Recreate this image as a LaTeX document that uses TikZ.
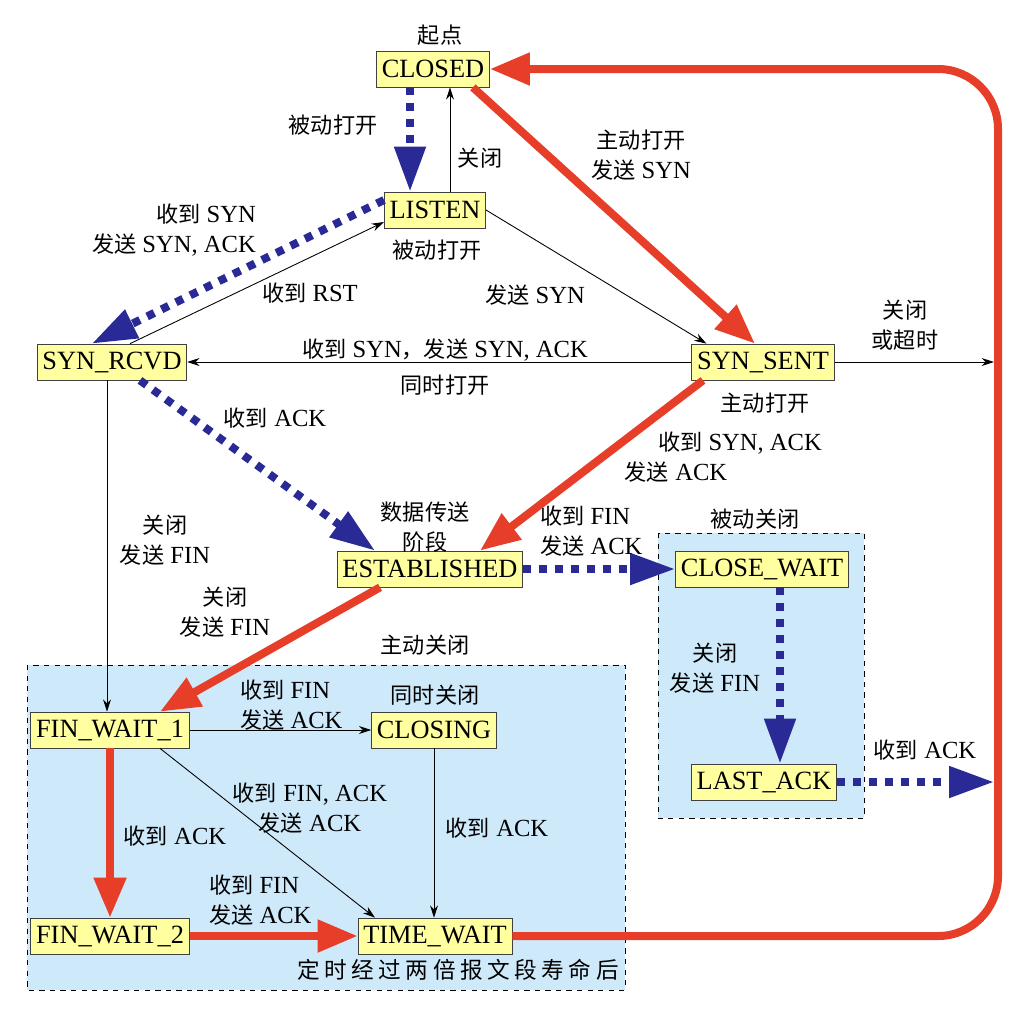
\documentclass[tikz,border=0pt]{standalone}
\usepackage{fontspec}
\setmainfont{Liberation Serif}
\newfontfamily\cjk[Scale=0.9]{Noto Sans CJK SC}
\newfontfamily\cjkwide[Scale=0.92,LetterSpace=20]{Noto Sans CJK SC}
\newcommand{\zh}[1]{{\cjk #1}}
\usetikzlibrary{arrows.meta}

\definecolor{tcpred}{RGB}{230,62,40}
\definecolor{tcpblue}{RGB}{42,42,150}
\definecolor{boxfill}{RGB}{255,255,160}
\definecolor{areafill}{RGB}{206,233,250}

\tikzset{
  state/.style={draw=black!75, fill=boxfill, minimum height=0.72cm, inner xsep=3pt,
    font=\fontsize{15}{17}\selectfont},
  lbl/.style={font=\fontsize{14}{17}\selectfont, inner sep=1pt},
  plainedge/.style={draw, line width=0.5pt, -{Stealth[length=7pt,width=4.5pt]}},
  rededge/.style={draw=tcpred, line width=0.16cm, -{Triangle[length=0.8cm,width=0.62cm]}},
  blueedge/.style={draw=tcpblue, line width=0.16cm, dash pattern=on 0.16cm off 0.16cm,
    -{Triangle[length=0.9cm,width=0.6cm]}},
  area/.style={draw, dashed, fill=areafill, line width=0.5pt}
}

\begin{document}
\begin{tikzpicture}[x=0.02cm, y=-0.02cm]
    \useasboundingbox (0,0) rectangle (1024,1012);

    % Closing areas
    \draw[area] (27,665) rectangle (625,990);
    \draw[area] (658,533) rectangle (864,818);

    % States
    \node[state] (closed) at (433,69) {CLOSED};
    \node[state] (listen) at (435,210) {LISTEN};
    \node[state] (synrcvd) at (112,362) {SYN\_RCVD};
    \node[state] (synsent) at (763,362) {SYN\_SENT};
    \node[state] (estab) at (430,569) {ESTABLISHED};
    \node[state] (closewait) at (762,569) {CLOSE\_WAIT};
    \node[state] (lastack) at (764,782) {LAST\_ACK};
    \node[state] (finwait1) at (110,730) {FIN\_WAIT\_1};
    \node[state] (closing) at (434,730) {CLOSING};
    \node[state] (finwait2) at (110,936) {FIN\_WAIT\_2};
    \node[state] (timewait) at (435,936) {TIME\_WAIT};

    % Points on the return line
    \coordinate (rline1) at (994,362);
    \coordinate (rline2) at (994,782);
    \coordinate (rtop) at (998,69);

    % Opening
    \draw[blueedge] ([xshift=-0.46cm]closed.south) -- ([xshift=-0.46cm]closed.south |- listen.north);
    \draw[plainedge] ([xshift=0.3cm]listen.north) -- ([xshift=0.3cm]listen.north |- closed.south);
    \draw[rededge] ([xshift=-0.34cm]closed.south east) -- ([xshift=-0.16cm]synsent.north);
    \draw[blueedge] ([yshift=0.2cm]listen.west) -- ([xshift=1.1cm]synrcvd.north west);
    \draw[plainedge] ([xshift=0.36cm]synrcvd.north) -- ([yshift=-0.24cm]listen.west);
    \draw[plainedge] (listen.east) -- ([xshift=0.3cm]synsent.north west);
    \draw[plainedge] (synsent.west) -- (synrcvd.east);
    \draw[plainedge] (synsent.east) -- (rline1);
    \draw[blueedge] ([xshift=0.56cm]synrcvd.south) -- ([xshift=-1.1cm]estab.north);
    \draw[rededge] ([xshift=-1.2cm]synsent.south) -- ([xshift=1.0cm]estab.north);

    % Closing
    \draw[plainedge] ([xshift=-0.1cm]synrcvd.south) -- ([xshift=-0.1cm]synrcvd.south |- finwait1.north);
    \draw[rededge] ([xshift=-1.0cm]estab.south) -- ([xshift=1.0cm]finwait1.north);
    \draw[blueedge] (estab.east) -- (closewait.west);
    \draw[blueedge] ([xshift=0.36cm]closewait.south) -- ([xshift=0.36cm]closewait.south |- lastack.north);
    \draw[blueedge] (lastack.east) -- (rline2);
    \draw[plainedge] (finwait1.east) -- (closing.west);
    \draw[plainedge] ([xshift=1.0cm]finwait1.south) -- ([xshift=-1.2cm]timewait.north);
    \draw[plainedge] (closing.south) -- (closing.south |- timewait.north);
    \draw[rededge] (finwait1.south) -- (finwait2.north);
    \draw[rededge] (finwait2.east) -- (timewait.west);
    \draw[rededge, rounded corners=1.2cm] (timewait.east) -| (rtop) -- (closed.east);

    % Labels
    \node[lbl] (startlbl) at (440,35) {\zh{起点}};
    \node[lbl] (passopen) at (333,125) {\zh{被动打开}};
    \node[lbl] (closelbl) at (480,158) {\zh{关闭}};
    \node[lbl, align=center] (actopen) at (641,155) {\zh{主动打开}\\\zh{发送} SYN};
    \node[lbl, align=right, anchor=east] (rcvsyn) at (258,230) {\zh{收到} SYN\\\zh{发送} SYN, ACK};
    \node[lbl] (listenlbl) at (437,250) {\zh{被动打开}};
    \node[lbl] (rcvrst) at (310,293) {\zh{收到} RST};
    \node[lbl] (sendsyn) at (535,295) {\zh{发送} SYN};
    \node[lbl] (simsyn) at (445,350) {\zh{收到} SYN\zh{，发送} SYN, ACK};
    \node[lbl] (simopen) at (445,385) {\zh{同时打开}};
    \node[lbl, align=center] (timeout) at (905,325) {\zh{关闭}\\\zh{或超时}};
    \node[lbl] (sentlbl) at (765,403) {\zh{主动打开}};
    \node[lbl] (rcvsynack) at (740,443) {\zh{收到} SYN, ACK};
    \node[lbl] (sendack) at (676,472) {\zh{发送} ACK};
    \node[lbl] (rcvack) at (275,418) {\zh{收到} ACK};
    \node[lbl, align=center] (closefin) at (165,540) {\zh{关闭}\\\zh{发送} FIN};
    \node[lbl, align=center] (datalbl) at (425,527) {\zh{数据传送}\\\zh{阶段}};
    \node[lbl, align=left, anchor=west] (rcvfin) at (538,531) {\zh{收到} FIN\\\zh{发送} ACK};
    \node[lbl] (passclose) at (755,519) {\zh{被动关闭}};
    \node[lbl, align=center] (estclose) at (225,612) {\zh{关闭}\\\zh{发送} FIN};
    \node[lbl] (actclose) at (425,645) {\zh{主动关闭}};
    \node[lbl, align=left, anchor=west] (fw1fin) at (238,705) {\zh{收到} FIN\\\zh{发送} ACK};
    \node[lbl] (simclose) at (435,695) {\zh{同时关闭}};
    \node[lbl, align=center] (fw1finack) at (310,808) {\zh{收到} FIN, ACK\\\zh{发送} ACK};
    \node[lbl] (fw1ack) at (175,836) {\zh{收到} ACK};
    \node[lbl] (closingack) at (497,828) {\zh{收到} ACK};
    \node[lbl, align=left, anchor=west] (fw2fin) at (207,900) {\zh{收到} FIN\\\zh{发送} ACK};
    \node[lbl] (msllbl) at (458,970) {{\cjkwide 定时经过两倍报文段寿命后}};
    \node[lbl, align=center] (cwclose) at (715,668) {\zh{关闭}\\\zh{发送} FIN};
    \node[lbl] (lastacklbl) at (925,750) {\zh{收到} ACK};
\end{tikzpicture}
\end{document}
